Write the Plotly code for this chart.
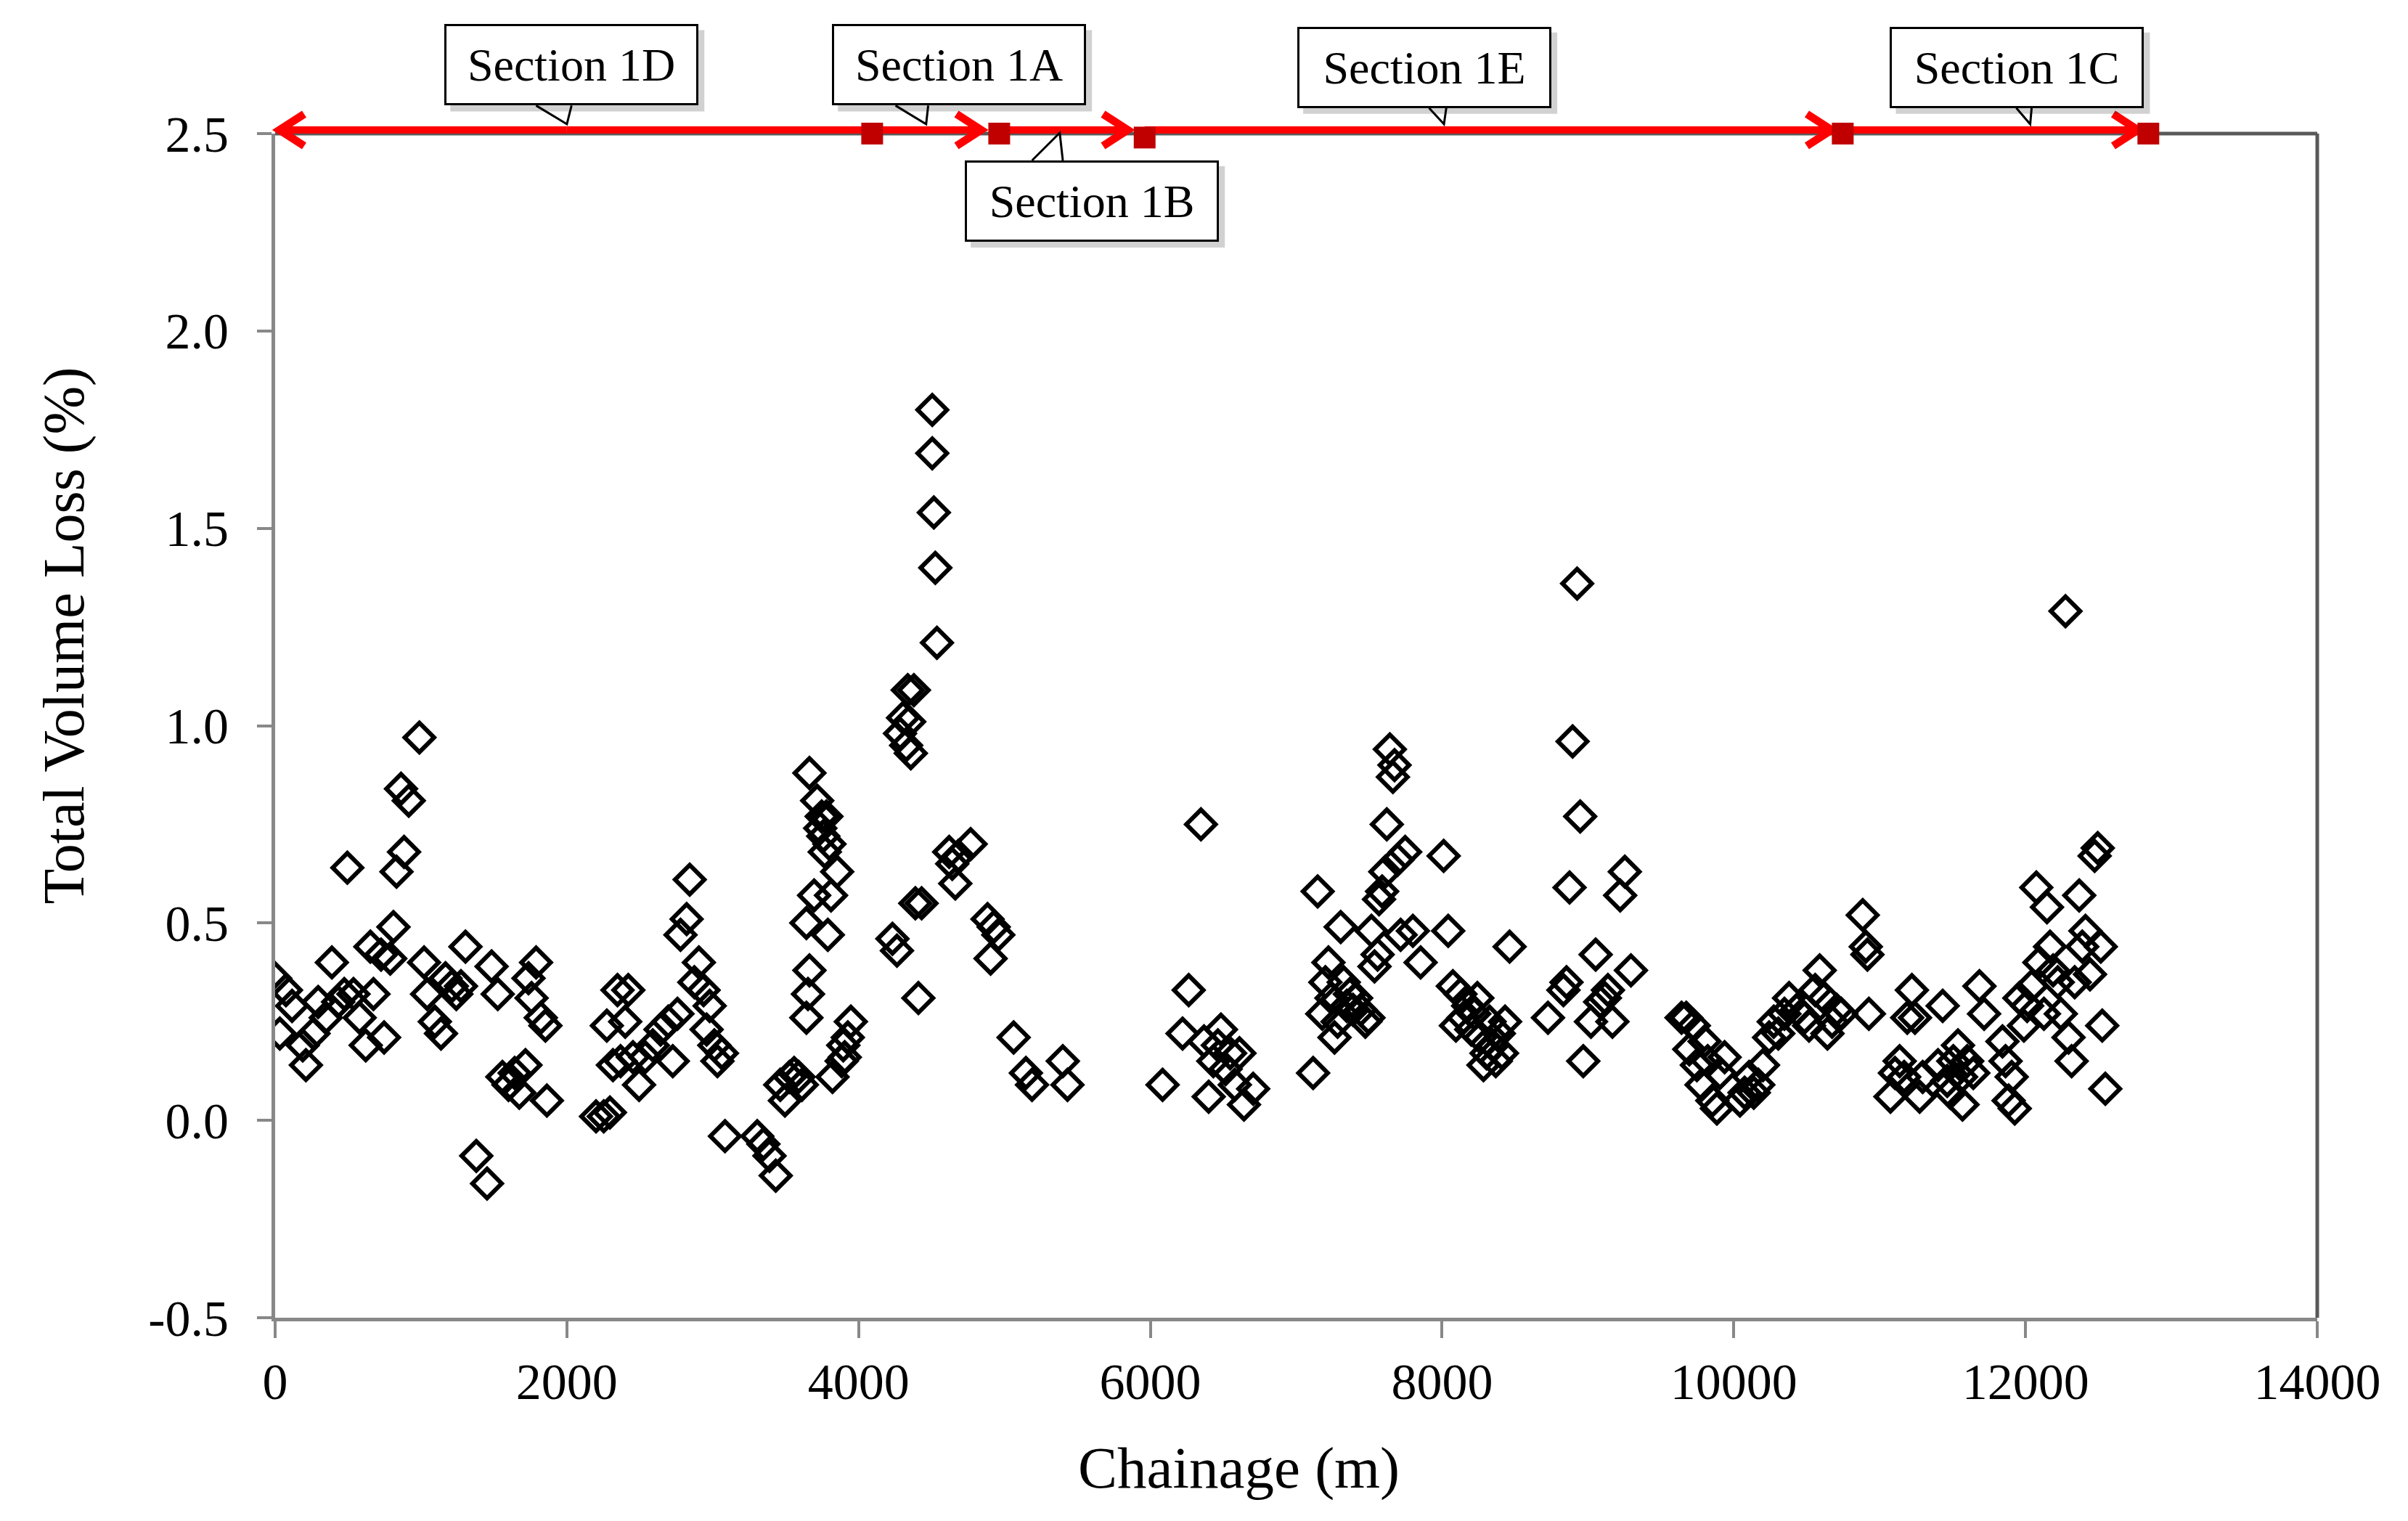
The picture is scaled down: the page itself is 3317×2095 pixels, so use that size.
import plotly.graph_objects as go

# chainage (m) and total volume loss (%)
chainage = [
    0, 32, 74, 116, 189, 211, 263, 295, 347, 389, 432, 474, 495, 537, 579, 621, 653, 674, 726, 747,
    789, 811, 832, 863, 884, 916, 989, 1021, 1042, 1095, 1137, 1168, 1211, 1242, 1274, 1305, 1379, 1453,
    1484, 1526, 1558, 1600, 1642, 1674, 1716, 1737, 1758, 1789, 1821, 1853, 1863,
    2200, 2253, 2295, 2274, 2316, 2347, 2368, 2400, 2421, 2453, 2495, 2537, 2589, 2642, 2695, 2726, 2758,
    2779, 2821, 2842, 2874, 2905, 2937, 2958, 2979, 3011, 3032, 3063, 3084, 3305, 3347, 3389, 3432, 3463,
    3495, 3526, 3558, 3589, 3611, 3642, 3653, 3663, 3642, 3663, 3695, 3716, 3737, 3747, 3758, 3768, 3779,
    3789, 3800, 3811, 3821, 3853, 3884, 3895, 3905, 3926, 3947,
    4232, 4263, 4284, 4305, 4326, 4337, 4347, 4358, 4379, 4389, 4410, 4432, 4505, 4505, 4516, 4526, 4537,
    4621, 4642, 4663, 4684, 4768, 4884, 4905, 4926, 4958, 5063, 5147, 5189, 5400, 5432,
    6084, 6221, 6263, 6347, 6368, 6400, 6432, 6463, 6484, 6516, 6547, 6579, 6611, 6642, 6705,
    7116, 7147, 7179, 7200, 7221, 7242, 7263, 7284, 7305, 7326, 7347, 7368, 7389, 7411, 7442, 7474, 7495,
    7516, 7537, 7558, 7568, 7589, 7611, 7621, 7642, 7663, 7674, 7695, 7716, 7747, 7800, 7853,
    8011, 8042, 8074, 8095, 8126, 8147, 8179, 8200, 8221, 8242, 8263, 8284, 8305, 8326, 8347, 8368, 8389,
    8411, 8432, 8463, 8726, 8832, 8853, 8874, 8895, 8926, 8947, 8968, 9021, 9053, 9084, 9116, 9137, 9168,
    9221, 9253, 9295,
    9642, 9674, 9695, 9726, 9747, 9779, 9800, 9821, 9853, 9884, 9905, 9937, 10042, 10074, 10105, 10137,
    10168, 10200, 10242, 10274, 10305, 10347, 10379, 10432, 10484, 10516, 10558, 10589, 10621, 10642,
    10674, 10705, 10737, 10884, 10905, 10916, 10926, 11074, 11105, 11137, 11168, 11189, 11221, 11242,
    11274, 11295, 11400, 11432, 11463, 11484, 11505, 11537, 11558, 11568, 11600, 11642, 11684, 11716,
    11842, 11863, 11884, 11905, 11926, 11958, 11989, 12011, 12042, 12074, 12095, 12126, 12147, 12168,
    12189, 12221, 12242, 12274, 12295, 12316, 12337, 12368, 12389, 12411, 12442, 12474, 12495, 12516,
    12526, 12547,
]
volume_loss = [
    0.36, 0.22, 0.33, 0.29, 0.19, 0.14, 0.22, 0.30, 0.26, 0.40, 0.30, 0.32, 0.64, 0.32, 0.26, 0.19, 0.44, 0.32, 0.42, 0.21,
    0.41, 0.49, 0.63, 0.84, 0.68, 0.81, 0.97, 0.40, 0.32, 0.25, 0.22, 0.36, 0.34, 0.32, 0.34, 0.44, -0.09, -0.16,
    0.39, 0.32, 0.11, 0.09, 0.12, 0.07, 0.14, 0.36, 0.31, 0.40, 0.26, 0.24, 0.05,
    0.01, 0.01, 0.02, 0.24, 0.14, 0.33, 0.15, 0.25, 0.33, 0.16, 0.09, 0.16, 0.19, 0.23, 0.25, 0.15, 0.27,
    0.47, 0.51, 0.61, 0.35, 0.40, 0.33, 0.23, 0.29, 0.19, 0.15, 0.17, -0.04, -0.04, -0.06, -0.09, -0.14, 0.09,
    0.05, 0.11, 0.12, 0.11, 0.09, 0.26, 0.32, 0.38, 0.50, 0.88, 0.57, 0.81, 0.74, 0.77, 0.72, 0.68, 0.77,
    0.47, 0.70, 0.57, 0.11, 0.63, 0.15, 0.19, 0.16, 0.21, 0.25,
    0.46, 0.43, 0.98, 1.02, 0.95, 1.09, 1.01, 0.93, 1.09, 0.55, 0.31, 0.55, 1.80, 1.69, 1.54, 1.40, 1.21,
    0.68, 0.65, 0.60, 0.67, 0.70, 0.51, 0.41, 0.49, 0.47, 0.21, 0.12, 0.09, 0.15, 0.09,
    0.09, 0.22, 0.33, 0.75, 0.20, 0.06, 0.15, 0.19, 0.23, 0.13, 0.17, 0.09, 0.17, 0.04, 0.08,
    0.12, 0.58, 0.27, 0.35, 0.40, 0.31, 0.21, 0.25, 0.49, 0.35, 0.29, 0.32, 0.28, 0.31, 0.28, 0.25, 0.26,
    0.48, 0.39, 0.42, 0.56, 0.58, 0.63, 0.75, 0.94, 0.87, 0.90, 0.66, 0.47, 0.68, 0.48, 0.40,
    0.67, 0.48, 0.34, 0.24, 0.32, 0.26, 0.29, 0.23, 0.27, 0.31, 0.21, 0.14, 0.17, 0.25, 0.19, 0.15, 0.22,
    0.17, 0.25, 0.44, 0.26, 0.33, 0.35, 0.59, 0.96, 1.36, 0.77, 0.15, 0.25, 0.42, 0.30, 0.31, 0.33, 0.25,
    0.57, 0.63, 0.38,
    0.26, 0.26, 0.18, 0.24, 0.14, 0.09, 0.20, 0.15, 0.05, 0.03, 0.12, 0.16, 0.05, 0.07, 0.11, 0.07,
    0.09, 0.14, 0.21, 0.25, 0.22, 0.27, 0.31, 0.28, 0.26, 0.24, 0.33, 0.38, 0.31, 0.22,
    0.25, 0.28, 0.27, 0.52, 0.44, 0.42, 0.27, 0.06, 0.12, 0.15, 0.11, 0.26, 0.33, 0.26,
    0.06, 0.11, 0.14, 0.29, 0.10, 0.07, 0.15, 0.19, 0.11, 0.04, 0.15, 0.12, 0.34, 0.27,
    0.20, 0.15, 0.05, 0.11, 0.03, 0.31, 0.24, 0.29, 0.34, 0.59, 0.40, 0.27, 0.54, 0.44,
    0.38, 0.35, 0.27, 1.29, 0.21, 0.15, 0.35, 0.57, 0.44, 0.48, 0.37, 0.67, 0.69, 0.44,
    0.24, 0.08,
]

x_ticks = [0, 2000, 4000, 6000, 8000, 10000, 12000, 14000]
x_ticktext = ['0', '2000', '4000', '6000', '8000', '10000', '12000', '14000']
y_ticks = [-0.5, 0.0, 0.5, 1.0, 1.5, 2.0, 2.5]
y_ticktext = ['-0.5', '0.0', '0.5', '1.0', '1.5', '2.0', '2.5']

# section boundaries (m) marked along the top
boundary_ch = [4093, 4964, 5961, 10747, 12842]
boundary_y = [2.5, 2.5, 2.49, 2.5, 2.5]

# red arrows: tail and tip chainage (m)
arrow_tail = [2000, 2000, 4964, 5961, 10747]
arrow_tip = [0, 4870, 5875, 10700, 12800]

# callout boxes
sec_labels = ['Section 1D', 'Section 1A', 'Section 1B', 'Section 1E', 'Section 1C']
sec_box_ch = [2032, 4689, 5600, 7879, 11942]
sec_box_y = [1.058, 1.058, 0.943, 1.056, 1.056]
sec_tip_ch = [2000, 4463, 5379, 8013, 12032]
sec_base_ch = [(1789, 2032), (4253, 4477), (5189, 5400), (7911, 8029), (11937, 12042)]

X_MAX = 14000
FIG_W, FIG_H = 3301, 2079
M_L, M_T = 371, 176
PLOT_W, PLOT_H = 2813, 1631
BOX_W, BOX_H = 350, 112
FONT = 'Liberation Serif'
RED = '#FF0000'


def px(ch, dx=0):
    # chainage (plus pixel offset) -> paper x
    return ch / X_MAX + dx / PLOT_W


def py(dy):
    # pixel offset above the top of the plot -> paper y
    return 1.0 + dy / PLOT_H


fig = go.Figure()

fig.add_trace(go.Scatter(
    x=chainage, y=volume_loss, mode='markers',
    marker=dict(symbol='diamond-open', size=31, color='black', line=dict(width=6, color='black')),
    hoverinfo='x+y'
))

fig.add_trace(go.Scatter(
    x=boundary_ch, y=boundary_y, mode='markers', cliponaxis=False,
    marker=dict(symbol='square', size=30, color='#C00000'),
    hoverinfo='x'
))

shapes = []
# top and right frame lines (darker than the axes)
shapes.append(dict(type='line', xref='paper', yref='paper', x0=0, x1=1, y0=1, y1=1,
                   line=dict(color='#595959', width=5), layer='below'))
shapes.append(dict(type='line', xref='paper', yref='paper', x0=1, x1=1, y0=0, y1=1,
                   line=dict(color='#595959', width=5), layer='above'))

line_y = py(5)
for tail, tip in zip(arrow_tail, arrow_tip):
    sgn = 1 if tip > tail else -1
    shapes.append(dict(type='line', xref='paper', yref='paper',
                       x0=px(tail), x1=px(tip, -sgn * 6), y0=line_y, y1=line_y,
                       line=dict(color=RED, width=10), layer='below'))
    chev = 'M {:.5f},{:.5f} L {:.5f},{:.5f} L {:.5f},{:.5f}'.format(
        px(tip, -sgn * 40), py(5 + 22), px(tip, -sgn * 6), line_y, px(tip, -sgn * 40), py(5 - 22))
    shapes.append(dict(type='path', xref='paper', yref='paper', path=chev,
                       line=dict(color=RED, width=11), layer='below'))

for lab, bx, by, tip, base in zip(sec_labels, sec_box_ch, sec_box_y, sec_tip_ch, sec_base_ch):
    cx = px(bx)
    hw = BOX_W / 2 / PLOT_W
    hh = BOX_H / 2 / PLOT_H
    # soft shadow
    shapes.append(dict(type='rect', xref='paper', yref='paper',
                       x0=cx - hw + 8 / PLOT_W, x1=cx + hw + 8 / PLOT_W,
                       y0=by - hh - 8 / PLOT_H, y1=by + hh - 8 / PLOT_H,
                       fillcolor='rgba(0,0,0,0.18)', line=dict(width=0)))
    # pointer wedge
    if by > 1:
        base_y = by - hh
        tip_y = py(13)
    else:
        base_y = by + hh
        tip_y = py(1)
    path = 'M {:.5f},{:.5f} L {:.5f},{:.5f} L {:.5f},{:.5f}'.format(
        px(base[0]), base_y, px(tip), tip_y, px(base[1]), base_y)
    shapes.append(dict(type='path', xref='paper', yref='paper', path=path,
                       line=dict(color='black', width=3)))
    fig.add_annotation(
        x=cx, y=by, xref='paper', yref='paper', text=lab, showarrow=False,
        width=BOX_W - 6, height=BOX_H - 6, bgcolor='white', bordercolor='black',
        borderwidth=3, borderpad=0, font=dict(family=FONT, size=64, color='black'),
        xanchor='center', yanchor='middle'
    )

# axis titles
fig.add_annotation(
    x=(81 - M_L) / PLOT_W, y=0.576, xref='paper', yref='paper', text='Total Volume Loss (%)',
    textangle=-90, showarrow=False, xanchor='center', yanchor='middle',
    font=dict(family=FONT, size=80, color='black')
)
fig.add_annotation(
    x=0.472, y=-0.127, xref='paper', yref='paper', text='Chainage (m)',
    showarrow=False, xanchor='center', yanchor='middle',
    font=dict(family=FONT, size=81, color='black')
)

fig.update_layout(
    width=FIG_W, height=FIG_H,
    margin=dict(l=M_L, r=FIG_W - M_L - PLOT_W, t=M_T, b=FIG_H - M_T - PLOT_H),
    plot_bgcolor='white', paper_bgcolor='white',
    showlegend=False,
    font=dict(family=FONT, color='black'),
    shapes=shapes,
    xaxis=dict(
        range=[0, X_MAX], tickmode='array', tickvals=x_ticks, ticktext=x_ticktext,
        ticks='outside', ticklen=23, tickwidth=4, tickcolor='#888888',
        showline=True, linecolor='#888888', linewidth=5, mirror=False,
        showgrid=False, zeroline=False,
        tickfont=dict(family=FONT, size=70, color='black')
    ),
    yaxis=dict(
        range=[-0.5, 2.5], tickmode='array', tickvals=y_ticks, ticktext=y_ticktext,
        ticks='outside', ticklen=20, tickwidth=4, tickcolor='#888888',
        showline=True, linecolor='#888888', linewidth=5, mirror=False,
        showgrid=False, zeroline=False, ticklabelstandoff=25,
        tickfont=dict(family=FONT, size=70, color='black')
    ),
)

fig.write_html('out.html')
